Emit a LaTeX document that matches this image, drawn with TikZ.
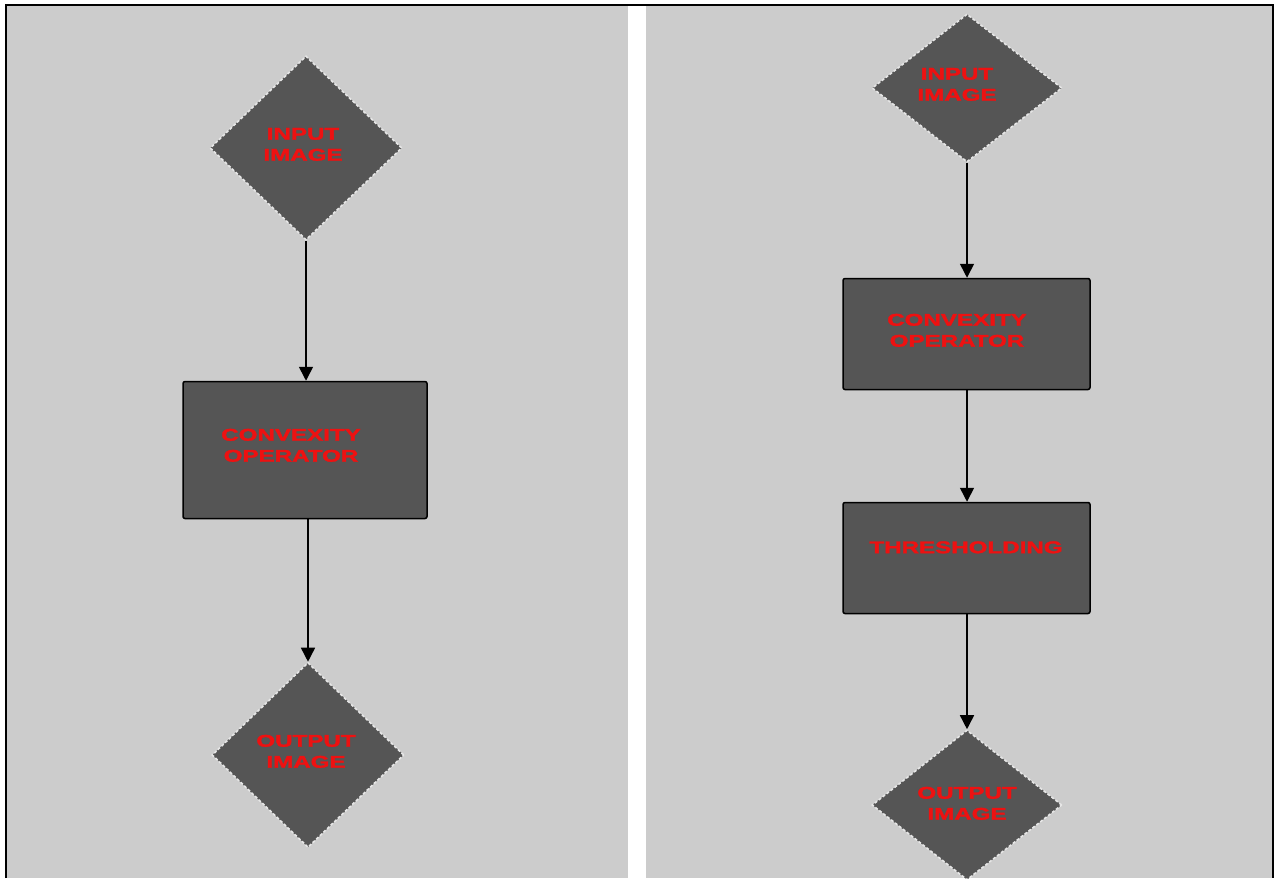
\documentclass[tikz,border=0pt]{standalone}
\usepackage{graphicx}
\usepackage{fontspec}
\newfontfamily\lblfont{Liberation Sans}[BoldFeatures={FakeBold=1.6}]
\usetikzlibrary{shapes.geometric,arrows.meta}
\definecolor{panelgray}{HTML}{CCCCCC}
\definecolor{boxfill}{HTML}{555555}
\definecolor{lblred}{HTML}{EE1111}
\definecolor{edgelight}{HTML}{E6E6E6}
\newcommand\lbltext[1]{\scalebox{1.42}[1]{\lblfont\bfseries\fontsize{17}{21}\selectfont\begin{tabular}{@{}c@{}}#1\end{tabular}}}
\tikzset{
  dia/.style={diamond, fill=boxfill, draw=edgelight, dash pattern=on 3pt off 2pt, line width=1.6pt, inner sep=0pt, text=lblred},
  procbox/.style={rectangle, fill=boxfill, draw=black, line width=1.5pt, rounded corners=2pt, inner sep=0pt},
  lbl/.style={text=lblred, inner sep=0pt},
  flow/.style={draw=black, line width=1.6pt, -{Triangle[length=14pt,width=14pt]}}
}
\begin{document}
\begin{tikzpicture}[x=1pt,y=-1pt]
\useasboundingbox (0,0) rectangle (1276,878);
\fill[white] (0,0) rectangle (1276,878);
% panels
\fill[panelgray] (7,6) rectangle (628,878);
\fill[panelgray] (646,6) rectangle (1272,878);
% outer frame
\draw[black, line width=2.5pt] (6,878) -- (6,5) -- (1273,5) -- (1273,878);

% left flow
\node[dia, minimum width=192pt, minimum height=184pt] (lin) at (306,148) {};
\node[lbl] (linT) at (303,146) {\lbltext{INPUT\\IMAGE}};
\node[procbox, minimum width=244pt, minimum height=137pt] (lconv) at (305,450) {};
\node[lbl] (lconvT) at (291,447) {\lbltext{CONVEXITY\\OPERATOR}};
\node[dia, minimum width=192pt, minimum height=185pt] (lout) at (308,755) {};
\node[lbl] (loutT) at (306,753) {\lbltext{OUTPUT\\IMAGE}};
\draw[flow] (lin.south) -- (lconv.north -| lin.south);
\draw[flow] (lconv.south -| lout.north) -- (lout.north);

% right flow
\node[dia, minimum width=190pt, minimum height=148pt] (rin) at (967,88) {};
\node[lbl] (rinT) at (957,86) {\lbltext{INPUT\\IMAGE}};
\node[procbox, minimum width=247pt, minimum height=111pt] (rconv) at (966.5,334) {};
\node[lbl] (rconvT) at (957,332) {\lbltext{CONVEXITY\\OPERATOR}};
\node[procbox, minimum width=247pt, minimum height=111pt] (rthr) at (966.5,558) {};
\node[lbl] (rthrT) at (966,549) {\lbltext{THRESHOLDING}};
\node[dia, minimum width=190pt, minimum height=150pt] (rout) at (967,805) {};
\node[lbl] (routT) at (967,805) {\lbltext{OUTPUT\\IMAGE}};
\draw[flow] (rin.south) -- (rconv.north -| rin.south);
\draw[flow] (rconv.south -| rin.south) -- (rthr.north -| rin.south);
\draw[flow] (rthr.south -| rin.south) -- (rout.north);
\end{tikzpicture}
\end{document}
